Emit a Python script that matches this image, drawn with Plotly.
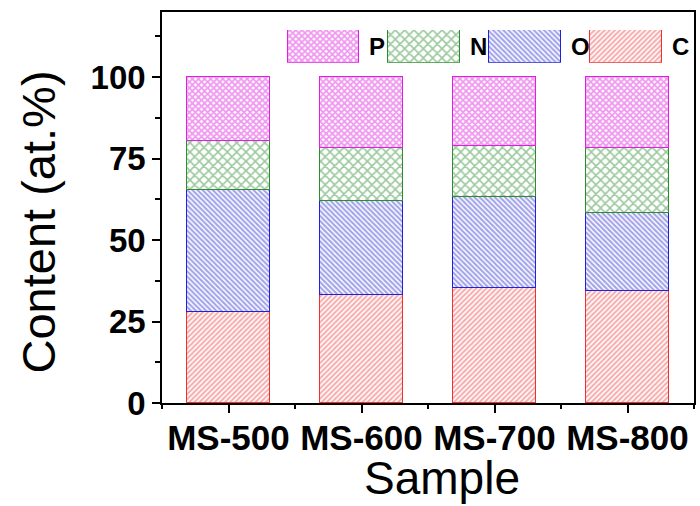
import plotly.graph_objects as go
import numpy as np

# Elemental composition (at.%) of each sample
samples = ["MS-500", "MS-600", "MS-700", "MS-800"]
c_vals = [27.8, 33.0, 35.2, 34.5]
o_vals = [37.7, 29.1, 28.0, 23.8]
n_vals = [15.0, 16.1, 15.6, 20.0]
p_vals = [19.5, 21.8, 21.2, 21.7]

y_ticks = [0, 25, 50, 75, 100]

# element -> (values, edge colour, hatch colour, hatch shape, size, solidity)
series = [
    ("C", c_vals, "#ee3030", "#f05a5a", "/", 3.6, 0.55),
    ("O", o_vals, "#2020dd", "#4848d8", "\\", 3.6, 0.6),
    ("N", n_vals, "#2e8b2e", "#36923a", "x", 6.6, 0.42),
    ("P", p_vals, "#e020e0", "#e030e0", "x", 4.3, 0.65),
]

FONT = "Liberation Sans"
xpos = np.arange(len(samples))

# plot-area geometry in pixels
L, R, T, B, W, H = 162, 4, 12, 103, 700, 506
plot_w = W - L - R
plot_h = H - T - B


def hatch_marker(edge, hatch, shape, size, solidity):
    return dict(
        color="white",
        line=dict(color=edge, width=1.2),
        pattern=dict(shape=shape, fgcolor=hatch, bgcolor="white",
                     size=size, solidity=solidity),
    )


fig = go.Figure()
for name, vals, edge, hatch, shape, size, sol in series:
    fig.add_trace(go.Bar(
        x=xpos, y=vals, name=name, width=0.62,
        marker=hatch_marker(edge, hatch, shape, size, sol),
        showlegend=False,
    ))

# Legend boxes drawn on a small auxiliary axis across the top of the frame
legend_order = ["P", "N", "O", "C"]
legend_start, legend_step, box_w = 162, 101.3, 72
style = {s[0]: s for s in series}
for i, key in enumerate(legend_order):
    _, _, edge, hatch, shape, size, sol = style[key]
    cx = legend_start + i * legend_step
    fig.add_trace(go.Bar(
        x=[cx], y=[1], base=[0], width=box_w, xaxis="x2", yaxis="y2",
        marker=hatch_marker(edge, hatch, shape, size, sol),
        showlegend=False, hoverinfo="skip",
    ))
    fig.add_annotation(
        x=cx + box_w / 2 + 8, y=0.5, xref="x2", yref="y2",
        text=key, showarrow=False, xanchor="left", yanchor="middle",
        font=dict(family=FONT, size=24, color="black", weight="bold"),
    )

ytick_font = dict(family=FONT, size=33, color="black", weight="bold")
xtick_font = dict(family=FONT, size=35, color="black", weight="bold")
title_font = dict(family=FONT, size=46, color="black")

# Axis titles
fig.add_annotation(
    text="Sample", showarrow=False, xref="paper", yref="paper",
    x=(443 - L) / plot_w, y=-(478 - (H - B)) / plot_h,
    xanchor="center", yanchor="middle", font=title_font,
)
fig.add_annotation(
    text="Content (at.%)", showarrow=False, xref="paper", yref="paper",
    x=-(L - 38) / plot_w, y=((H - B) - 222) / plot_h, textangle=-90,
    xanchor="center", yanchor="middle",
    font=dict(family=FONT, size=47, color="black"),
)

fig.update_layout(
    barmode="stack",
    width=W, height=H,
    margin=dict(l=L, r=R, t=T, b=B),
    paper_bgcolor="white", plot_bgcolor="white",
    bargap=0,
    xaxis=dict(
        range=[-0.5, 3.5], tickvals=list(xpos), ticktext=samples,
        ticks="outside", ticklen=8, tickwidth=1.5, tickcolor="black",
        minor=dict(tick0=-0.5, dtick=1, ticks="outside", ticklen=4,
                   tickwidth=1.5, tickcolor="black"),
        showline=True, linecolor="black", linewidth=1.5, mirror=True,
        showgrid=False, zeroline=False, tickfont=xtick_font,
        ticklabelstandoff=-5,
    ),
    yaxis=dict(
        range=[0, 120], tickvals=y_ticks,
        ticks="outside", ticklen=8, tickwidth=1.5, tickcolor="black",
        minor=dict(tick0=12.5, dtick=25, ticks="outside", ticklen=5,
                   tickwidth=1.5, tickcolor="black"),
        showline=True, linecolor="black", linewidth=1.5, mirror=True,
        showgrid=False, zeroline=False, tickfont=ytick_font,
    ),
    xaxis2=dict(domain=[0, 1], range=[0, 534], anchor="y2", visible=False,
                fixedrange=True),
    yaxis2=dict(domain=[0.87, 0.954], range=[0, 1], anchor="x2", visible=False,
                fixedrange=True),
)

fig.write_html("out.html")
